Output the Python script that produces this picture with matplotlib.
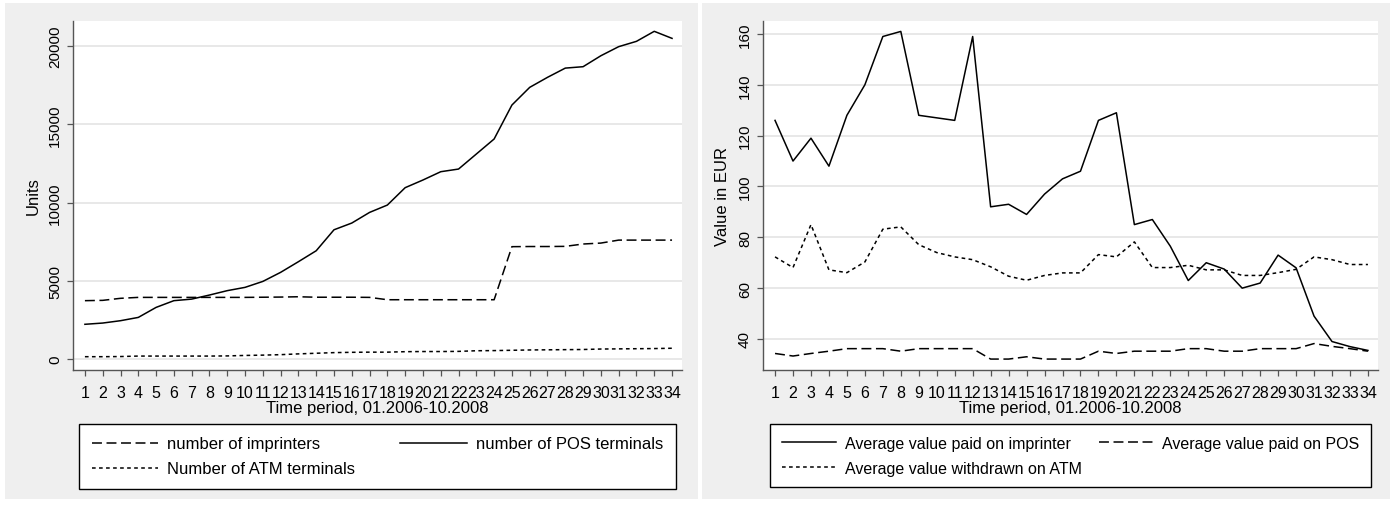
import numpy as np
import matplotlib
matplotlib.use("Agg")
import matplotlib.pyplot as plt
from matplotlib.patches import Rectangle

# time periods 1..34 (01.2006 - 10.2008)
periods = list(range(1, 35))

# left panel: counts of terminals
imprinters = [3730, 3750, 3880, 3940, 3940, 3940, 3940, 3940, 3940, 3940,
              3950, 3960, 3980, 3950, 3950, 3950, 3940, 3790, 3790, 3790,
              3790, 3790, 3790, 3790, 7180, 7190, 7190, 7200, 7350, 7410,
              7600, 7600, 7600, 7600]
pos_terminals = [2220, 2300, 2450, 2660, 3300, 3730, 3830, 4090, 4370, 4580,
                 4960, 5540, 6220, 6920, 8260, 8690, 9370, 9840, 10950, 11440,
                 11970, 12140, 13100, 14060, 16230, 17360, 18000, 18590, 18680, 19380,
                 19960, 20300, 20940, 20490]
atm_terminals = [150, 150, 160, 190, 190, 190, 190, 190, 200, 230,
                 250, 280, 330, 370, 410, 430, 440, 440, 470, 480,
                 480, 490, 530, 540, 560, 580, 590, 600, 610, 640,
                 650, 660, 670, 690]

# right panel: average values in EUR
avg_imprinter = [126, 110, 119, 108, 128, 140, 159, 161, 128, 127,
                 126, 159, 92, 93, 89, 97, 103, 106, 126, 129,
                 85, 87, 76.5, 63, 70, 67.5, 60, 62, 73, 68,
                 49, 39, 37, 35.5]
avg_pos = [34.3, 33.3, 34.3, 35.2, 36.2, 36.2, 36.2, 35.2, 36.2, 36.2,
           36.2, 36.2, 32.1, 32.1, 33, 32.1, 32.1, 32.1, 35.2, 34.3,
           35.2, 35.2, 35.2, 36.2, 36.2, 35.2, 35.2, 36.2, 36.2, 36.2,
           38.2, 37.1, 36.2, 35.2]
avg_atm = [72.3, 68.1, 85, 67.2, 66.1, 70.3, 83.2, 84.1, 77.1, 74,
           72.3, 71.2, 68.4, 64.7, 63.1, 65, 66, 66, 73.2, 72.3,
           78.2, 68.1, 68.1, 69, 67.2, 67.2, 65, 65, 66.1, 67.4,
           72.3, 71.2, 69.3, 69.3]

left_yticks = [0, 5000, 10000, 15000, 20000]
right_yticks = [40, 60, 80, 100, 120, 140, 160]

plt.rcParams["font.family"] = ["Liberation Sans", "DejaVu Sans"]

panel_gray = "#efefef"
grid_gray = "#e6e6e6"
spine_col = "#555555"

DASH = (6.5, 3.0)
DOT = (2.4, 2.2)

fig = plt.figure(figsize=(13.95, 5.06), dpi=100)
fig.patch.set_facecolor("white")
W, H = 1395.0, 506.0
fig.patches.append(Rectangle((5 / W, 1 - 500 / H), 693 / W, 496 / H,
                             transform=fig.transFigure, facecolor=panel_gray,
                             edgecolor="none", zorder=-10))
fig.patches.append(Rectangle((702 / W, 1 - 500 / H), 688 / W, 496 / H,
                             transform=fig.transFigure, facecolor=panel_gray,
                             edgecolor="none", zorder=-10))

ax1 = fig.add_axes([73 / W, 1 - 371 / H, 609 / W, 349 / H])
ax2 = fig.add_axes([763 / W, 1 - 371 / H, 615 / W, 349 / H])


def style_axis(ax, yticks, ylim):
    ax.set_facecolor("white")
    for s in ["top", "right"]:
        ax.spines[s].set_visible(False)
    for s in ["left", "bottom"]:
        ax.spines[s].set_color(spine_col)
        ax.spines[s].set_linewidth(1.0)
    ax.set_xlim(0.33, 34.56)
    ax.set_ylim(*ylim)
    ax.set_xticks(periods)
    ax.set_xticklabels([str(p) for p in periods], fontsize=11.5)
    ax.set_yticks(yticks)
    ax.set_yticklabels([str(t) for t in yticks], fontsize=11,
                       rotation=90, va="center")
    ax.tick_params(axis="both", direction="out", length=4, width=0.9,
                   color=spine_col, pad=4)
    ax.tick_params(axis="x", pad=7)
    ax.grid(axis="y", color=grid_gray, linewidth=1.3)
    ax.set_axisbelow(True)
    ax.set_xlabel("Time period, 01.2006-10.2008", fontsize=12, labelpad=0)


style_axis(ax1, left_yticks, (-700, 21600))
style_axis(ax2, right_yticks, (27.8, 165.1))
ax1.set_ylabel("Units", fontsize=12)
ax1.yaxis.set_label_coords(-0.053, 0.5)
ax2.set_ylabel("Value in EUR", fontsize=12)
ax2.yaxis.set_label_coords(-0.054, 0.5)

l_imp, = ax1.plot(periods, imprinters, color="black", lw=1.1, dashes=DASH)
l_pos, = ax1.plot(periods, pos_terminals, color="black", lw=1.1)
l_atm, = ax1.plot(periods, atm_terminals, color="black", lw=1.1, dashes=DOT)

r_imp, = ax2.plot(periods, avg_imprinter, color="black", lw=1.1)
r_pos, = ax2.plot(periods, avg_pos, color="black", lw=1.1, dashes=DASH)
r_atm, = ax2.plot(periods, avg_atm, color="black", lw=1.1, dashes=DOT)

leg_kw = dict(ncol=2, mode="expand", loc="upper left", fancybox=False,
              edgecolor="black", framealpha=1, borderaxespad=0,
              labelspacing=0.6, handletextpad=0.55, borderpad=0.75)
leg1 = ax1.legend([l_imp, l_atm, l_pos],
                  ["number of imprinters", "Number of ATM terminals",
                   "number of POS terminals"],
                  bbox_to_anchor=(79 / W, 1 - 430 / H, 597 / W, 0.01),
                  bbox_transform=fig.transFigure, handlelength=4.0,
                  prop={"size": 12}, **leg_kw)
leg2 = ax2.legend([r_imp, r_atm, r_pos],
                  ["Average value paid on imprinter",
                   "Average value withdrawn on ATM",
                   "Average value paid on POS"],
                  bbox_to_anchor=(770 / W, 1 - 430 / H, 601 / W, 0.01),
                  bbox_transform=fig.transFigure, handlelength=3.4,
                  prop={"size": 11.5}, **leg_kw)
for leg in (leg1, leg2):
    leg.get_frame().set_linewidth(1.0)

fig.savefig("out.png", dpi=100)
